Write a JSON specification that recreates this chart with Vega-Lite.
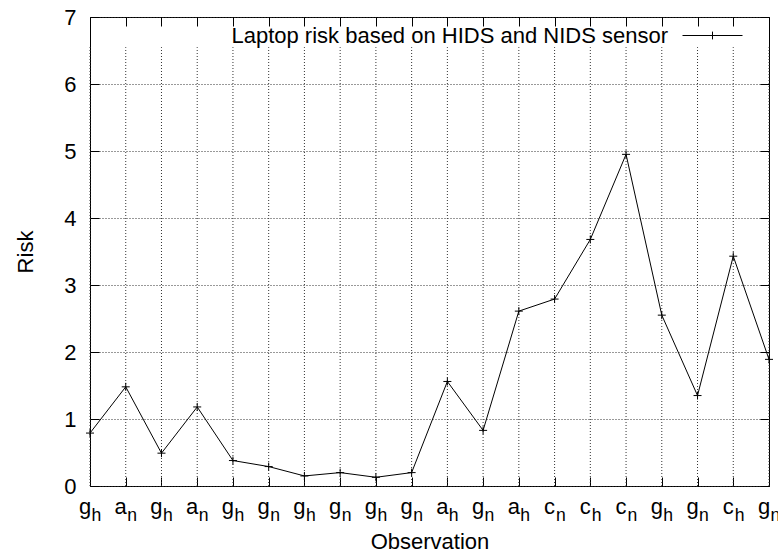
{
  "$schema": "https://vega.github.io/schema/vega-lite/v6.json",
  "width": 679,
  "height": 469,
  "autosize": {"type": "none"},
  "padding": {"left": 90, "top": 17, "right": 9, "bottom": 67},
  "background": "white",
  "config": {
    "view": {"stroke": "black", "strokeWidth": 1},
    "font": "Liberation Sans",
    "axis": {
      "domainColor": "black",
      "tickColor": "black",
      "labelColor": "black",
      "titleColor": "black",
      "labelFont": "Liberation Sans",
      "titleFont": "Liberation Sans",
      "labelFontSize": 22,
      "titleFontSize": 22,
      "titleFontWeight": "normal"
    }
  },
  "data": {
    "values": [
      {"i": 0, "obs": "g", "sub": "h", "risk": 0.79},
      {"i": 1, "obs": "a", "sub": "n", "risk": 1.48},
      {"i": 2, "obs": "g", "sub": "h", "risk": 0.49},
      {"i": 3, "obs": "a", "sub": "n", "risk": 1.18},
      {"i": 4, "obs": "g", "sub": "h", "risk": 0.38},
      {"i": 5, "obs": "g", "sub": "n", "risk": 0.29},
      {"i": 6, "obs": "g", "sub": "h", "risk": 0.15},
      {"i": 7, "obs": "g", "sub": "n", "risk": 0.2},
      {"i": 8, "obs": "g", "sub": "h", "risk": 0.13},
      {"i": 9, "obs": "g", "sub": "n", "risk": 0.2},
      {"i": 10, "obs": "a", "sub": "h", "risk": 1.56},
      {"i": 11, "obs": "g", "sub": "n", "risk": 0.83},
      {"i": 12, "obs": "a", "sub": "h", "risk": 2.61},
      {"i": 13, "obs": "c", "sub": "n", "risk": 2.79},
      {"i": 14, "obs": "c", "sub": "h", "risk": 3.68},
      {"i": 15, "obs": "c", "sub": "n", "risk": 4.95},
      {"i": 16, "obs": "g", "sub": "h", "risk": 2.55},
      {"i": 17, "obs": "g", "sub": "n", "risk": 1.35},
      {"i": 18, "obs": "c", "sub": "h", "risk": 3.43},
      {"i": 19, "obs": "g", "sub": "n", "risk": 1.89}
    ]
  },
  "layer": [
    {
      "mark": {"type": "rule", "stroke": "#333", "strokeWidth": 1, "strokeDash": [1, 2]},
      "encoding": {
        "x": {"field": "i", "type": "quantitative", "scale": {"domain": [0, 19], "nice": false, "zero": false}, "axis": null},
        "y": {"datum": 0, "type": "quantitative", "scale": {"domain": [0, 7], "nice": false}, "axis": null},
        "y2": {"datum": 6.55}
      }
    },
    {
      "mark": {"type": "line", "strokeWidth": 1},
      "encoding": {
        "x": {
          "field": "i", "type": "quantitative",
          "scale": {"domain": [0, 19], "nice": false, "zero": false},
          "axis": {"orient": "bottom", "values": [0,1,2,3,4,5,6,7,8,9,10,11,12,13,14,15,16,17,18,19], "labels": false, "grid": false, "tickSize": -9, "domain": false, "title": "Observation", "titlePadding": 45}
        },
        "y": {
          "field": "risk", "type": "quantitative",
          "scale": {"domain": [0, 7], "nice": false},
          "axis": {"orient": "left", "values": [0,1,2,3,4,5,6,7], "grid": true, "gridColor": "#333", "gridDash": [1, 2], "gridWidth": 1, "tickSize": -9, "labelPadding": 23, "domain": false, "title": "Risk", "titlePadding": 26}
        },
        "color": {
          "datum": "Laptop risk based on HIDS and NIDS sensor",
          "scale": {"range": ["black"]},
          "legend": {
            "title": null, "orient": "none", "legendX": 592, "legendY": -12,
            "symbolType": "M-1,0H1M0,-0.13V0.13", "symbolSize": 3600,
            "symbolStrokeWidth": 1, "symbolStrokeColor": "black", "symbolFillColor": "transparent",
            "labelAlign": "right", "labelOffset": -75, "labelFontSize": 22, "labelFont": "Liberation Sans",
            "labelColor": "black", "padding": 0, "labelLimit": 0
          }
        }
      }
    },
    {
      "mark": {"type": "point", "shape": "M-1,0H1M0,-1V1", "size": 64, "filled": false, "stroke": "black", "strokeWidth": 1, "opacity": 1},
      "encoding": {
        "x": {"field": "i", "type": "quantitative", "axis": null},
        "y": {"field": "risk", "type": "quantitative", "axis": null}
      }
    },
    {
      "mark": {"type": "text", "fontSize": 22, "font": "Liberation Sans", "align": "center", "baseline": "alphabetic", "dx": -5, "dy": 28, "color": "black"},
      "encoding": {
        "x": {"field": "i", "type": "quantitative", "axis": null},
        "y": {"datum": 0, "type": "quantitative", "axis": null},
        "text": {"field": "obs"}
      }
    },
    {
      "mark": {"type": "text", "fontSize": 17.6, "font": "Liberation Sans", "align": "left", "baseline": "alphabetic", "dx": 1.5, "dy": 35, "color": "black"},
      "encoding": {
        "x": {"field": "i", "type": "quantitative", "axis": null},
        "y": {"datum": 0, "type": "quantitative", "axis": null},
        "text": {"field": "sub"}
      }
    },
    {
      "mark": {"type": "point", "opacity": 0},
      "encoding": {
        "x": {"field": "i", "type": "quantitative", "axis": {"orient": "top", "values": [0,1,2,3,4,5,6,7,8,9,10,11,12,13,14,15,16,17,18,19], "labels": false, "grid": false, "tickSize": -9, "domain": false, "title": null}},
        "y": {"field": "risk", "type": "quantitative", "axis": {"orient": "right", "values": [0,1,2,3,4,5,6,7], "labels": false, "grid": false, "tickSize": -9, "domain": false, "title": null}}
      }
    }
  ],
  "resolve": {"axis": {"x": "independent", "y": "independent"}}
}
